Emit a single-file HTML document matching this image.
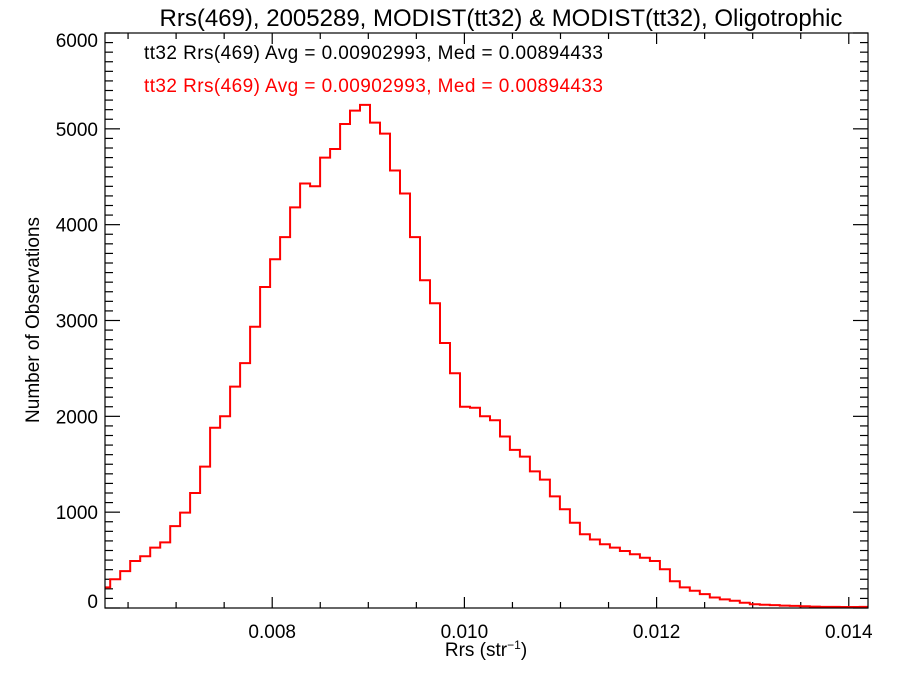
<!DOCTYPE html>
<html><head><meta charset="utf-8"><style>
body{margin:0;background:#fff;}
svg text{font-family:"Liberation Sans",sans-serif;}
</style></head><body>
<svg id="chart" width="900" height="675" xmlns="http://www.w3.org/2000/svg">
<rect width="900" height="675" fill="#fff"/>
<text x="501" y="26" font-size="24" text-anchor="middle">Rrs(469), 2005289, MODIST(tt32) &amp; MODIST(tt32), Oligotrophic</text>
<text x="144" y="59" font-size="19" fill="#000" textLength="459">tt32 Rrs(469) Avg = 0.00902993, Med = 0.00894433</text>
<text x="144" y="92" font-size="19" fill="#ff0000" textLength="459">tt32 Rrs(469) Avg = 0.00902993, Med = 0.00894433</text>
<text transform="translate(39,320) rotate(-90)" font-size="19" text-anchor="middle">Number of Observations</text>
<text x="486" y="656" font-size="19" text-anchor="middle">Rrs (str<tspan font-size="12" dy="-7">−1</tspan><tspan dy="7">)</tspan></text>
<g id="axes"></g>
<g id="series"></g>
<rect x="105" y="33" width="763" height="575" fill="none" stroke="#000" stroke-width="1.2"/>
</svg>
<script>
const xMin = 0.00626, xMax = 0.0142, yMin = 0, yMax = 6000;
const binStart = 0.00621;
const binWidth = 0.000104;
const counts = [215,300,385,490,540,630,685,855,995,1200,1475,1880,2000,2310,2555,2935,3350,3640,3870,4180,4430,4400,4700,4790,5050,5190,5250,5065,4950,4565,4325,3870,3420,3180,2765,2450,2100,2090,2000,1960,1790,1650,1580,1425,1340,1165,1030,890,770,715,665,630,595,560,525,490,405,280,215,180,145,110,90,75,55,40,33,30,25,22,18,15,12,12,10,10,12];
const xTicks = [0.008, 0.010, 0.012, 0.014];
const xTickLabels = ["0.008","0.010","0.012","0.014"];
const yTicks = [0,1000,2000,3000,4000,5000,6000];
const yTickLabels = ["0","1000","2000","3000","4000","5000","6000"];
const L=105,R=868,T=33,B=608;
const sx = v => L + (v - xMin) / (xMax - xMin) * (R - L);
const sy = v => B - (v - yMin) / (yMax - yMin) * (B - T);
const NS="http://www.w3.org/2000/svg";
const axes=document.getElementById('axes');
function line(x1,y1,x2,y2){const l=document.createElementNS(NS,'line');l.setAttribute('x1',x1);l.setAttribute('y1',y1);l.setAttribute('x2',x2);l.setAttribute('y2',y2);l.setAttribute('stroke','#000');l.setAttribute('stroke-width','1.2');axes.appendChild(l);return l;}
for(let v=0.0065; v<=xMax+1e-9; v+=0.0005){
  const x=sx(v); const major = Math.abs((v*1000)%2)<1e-6 || Math.abs((v*1000)%2-2)<1e-6;
  const len = major?11:6;
  const t1=line(x,B,x,B-len);
  
  
  const t2=line(x,T,x,T+len);
  
  
}
xTicks.forEach((v,i)=>{
  const t=document.createElementNS(NS,'text');
  t.setAttribute('x',sx(v));t.setAttribute('y',638);t.setAttribute('font-size','19');t.setAttribute('text-anchor','middle');
  t.textContent=xTickLabels[i];
  
  
  axes.appendChild(t);
});
for(let v=0; v<=yMax; v+=100){
  const y=sy(v); const major=v%1000===0; const len=major?15:8;
  const t1=line(L,y,L+len,y);
  
  
  const t2=line(R,y,R-len,y);
  
  
}
yTicks.forEach((v,i)=>{
  let y=sy(v)+7;
  if(v===0) y-=7; if(v===yMax) y+=7;
  const t=document.createElementNS(NS,'text');
  t.setAttribute('x',98);t.setAttribute('y',y);t.setAttribute('font-size','19');t.setAttribute('text-anchor','end');
  t.textContent=yTickLabels[i];
  
  
  axes.appendChild(t);
});
let d='';
counts.forEach((c,i)=>{
  const x0=Math.max(L,sx(binStart+i*binWidth)), x1=Math.min(R,sx(binStart+(i+1)*binWidth));
  const y=sy(c);
  d += (i===0?'M':'L')+x0.toFixed(1)+','+y.toFixed(1)+'L'+x1.toFixed(1)+','+y.toFixed(1);
});
const p=document.createElementNS(NS,'path');
p.setAttribute('d',d);p.setAttribute('fill','none');p.setAttribute('stroke','#ff0000');p.setAttribute('stroke-width','2');


document.getElementById('series').appendChild(p);
</script>
</body></html>
